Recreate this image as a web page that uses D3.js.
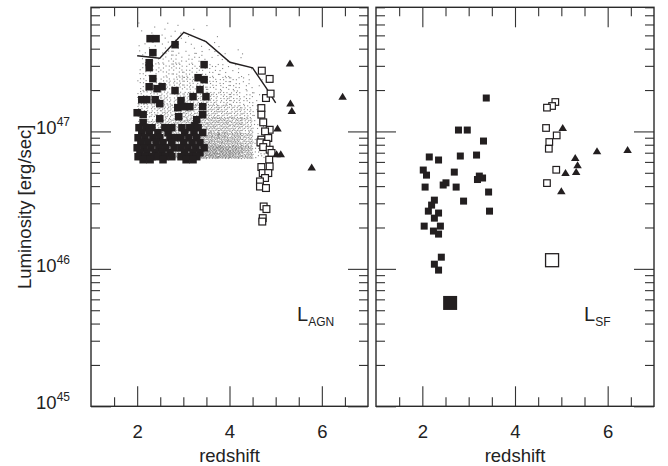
<!DOCTYPE html>
<html lang="en">
<head>
<meta charset="UTF-8">
<title>Luminosity vs redshift</title>
<style>
  body { margin: 0; background: #fff; }
  svg { display: block; font-family: 'Liberation Sans', Arial, sans-serif; }
</style>
</head>
<body>
<svg width="668" height="466"></svg>
<script src="https://d3js.org/d3.v7.min.js"></script>
<script>
// ---- tick values ----
const xMajorTicks = [2, 4, 6];
const xMinorTicks = [1.5, 2.5, 3, 3.5, 4.5, 5, 5.5, 6.5];
const yDecades = [45, 46, 47];
const yLabel = "Luminosity [erg/sec]";
const xLabel = "redshift";

// ---- left panel (L_AGN) ----
// filled squares: redshift, log10 L
const agnFilledZ = [
  2.28, 2.41, 2.82, 2.34, 2.26, 2.26, 3.45, 2.34, 3.32, 3.45, 2.26, 2.43, 2.54, 2.82, 3.36,
  2.10, 2.21, 2.39, 2.49, 2.95, 2.88, 3.03, 3.14, 3.42, 2.00, 2.13, 2.90, 3.42, 2.49, 2.13,
  3.29, 3.25, 3.49, 3.21,
  2.04, 2.19, 2.32, 2.60, 2.75, 2.97, 3.14, 3.32,
  2.10, 2.26, 2.45, 2.67, 3.03, 3.23, 3.42,
  2.02, 2.17, 2.34, 2.49, 2.71, 2.82, 2.95, 3.12, 3.29,
  2.08, 2.23, 2.41, 2.56, 2.75, 3.01, 3.19, 3.36,
  2.00, 2.15, 2.30, 2.47, 2.62, 2.80, 2.95, 3.10, 3.27, 3.45,
  2.06, 2.21, 2.39, 2.54, 2.71, 3.03, 3.21, 3.36,
  2.02, 2.17, 2.32, 2.45, 2.60, 2.75, 2.95, 3.12, 3.29,
  2.13, 2.28, 2.56, 3.06, 3.21
];
const agnFilledLogL = [
  47.675, 47.675, 47.631, 47.573, 47.500, 47.464, 47.486, 47.384, 47.391, 47.377, 47.325, 47.311, 47.325, 47.297, 47.304,
  47.231, 47.231, 47.231, 47.202, 47.224, 47.173, 47.180, 47.180, 47.180, 47.136, 47.122, 47.107, 47.122, 47.092, 47.063,
  47.085, 47.042, 47.253, 47.253,
  47.027, 47.027, 47.027, 47.027, 47.027, 47.027, 47.027, 47.027,
  46.991, 46.991, 46.991, 46.991, 46.991, 46.991, 46.991,
  46.954, 46.954, 46.954, 46.954, 46.954, 46.954, 46.954, 46.954, 46.954,
  46.918, 46.918, 46.918, 46.918, 46.918, 46.918, 46.918, 46.918,
  46.881, 46.881, 46.881, 46.881, 46.881, 46.881, 46.881, 46.881, 46.881, 46.881,
  46.845, 46.845, 46.845, 46.845, 46.845, 46.845, 46.845, 46.845,
  46.816, 46.816, 46.816, 46.816, 46.816, 46.816, 46.816, 46.816, 46.816,
  46.794, 46.794, 46.794, 46.794, 46.794
];
// open squares
const agnOpenZ = [4.70, 4.87, 4.79, 4.89, 4.69, 4.69, 4.73, 4.87, 4.77, 4.69, 4.84, 4.67, 4.80, 4.73, 4.87,
  4.91, 4.86, 4.87, 4.69, 4.72, 4.84, 4.77, 4.66, 4.66, 4.79, 4.74, 4.80, 4.72, 4.71];
const agnOpenLogL = [47.442, 47.382, 47.243, 47.275, 47.170, 47.122, 47.066, 47.012, 47.000, 46.940, 46.952, 46.920, 46.910, 46.886, 46.867,
  46.843, 46.794, 46.745, 46.741, 46.697, 46.697, 46.661, 46.636, 46.599, 46.588, 46.454, 46.435, 46.369, 46.344];
// triangles
const agnTriZ = [5.31, 5.32, 5.35, 5.04, 5.02, 5.11, 5.78, 6.45];
const agnTriLogL = [47.498, 47.207, 47.153, 47.025, 46.838, 46.838, 46.741, 47.255];
// envelope line
const lineZ = [2.00, 2.49, 3.01, 3.49, 4.01, 4.50, 4.82, 5.00];
const lineLogL = [47.551, 47.532, 47.721, 47.653, 47.503, 47.462, 47.304, 47.207];
// background population: dot counts per (log L row, redshift column) cell
const cloudZEdges = [2.0, 2.25, 2.5, 2.75, 3.0, 3.25, 3.5, 3.75, 4.0, 4.25, 4.5, 4.75];
const cloudLogLEdges = [46.806, 46.9, 47.0, 47.1, 47.2, 47.3, 47.4, 47.5, 47.6, 47.7, 47.8];
const cloudCounts = [
  [48, 56, 66, 78, 86, 92, 96, 92, 84, 62, 14],
  [38, 44, 52, 60, 66, 70, 72, 70, 64, 46, 11],
  [30, 34, 40, 46, 50, 52, 52, 50, 46, 34, 8],
  [22, 26, 30, 34, 36, 36, 35, 33, 30, 22, 5],
  [17, 20, 23, 26, 27, 27, 25, 23, 20, 13, 3],
  [13, 15, 18, 20, 20, 18, 16, 15, 12, 7, 2],
  [10, 12, 13, 15, 13, 11, 10, 8, 5, 2, 0],
  [7, 8, 10, 10, 8, 6, 4, 3, 2, 1, 0],
  [3, 4, 5, 5, 4, 3, 2, 1, 0, 0, 0],
  [2, 2, 3, 3, 2, 1, 0, 0, 0, 0, 0]
];

// ---- right panel (L_SF) ----
const sfFilledZ = [3.38, 2.78, 2.97, 3.32, 2.15, 2.35, 2.82, 3.17, 2.02, 2.09, 2.69, 3.23, 3.30, 3.19, 2.06, 2.45, 2.51,
  2.73, 3.43, 2.26, 2.20, 2.89, 2.13, 2.35, 3.45, 2.26, 2.04, 2.39, 2.24, 2.35, 2.41, 2.26, 2.35];
const sfFilledLogL = [47.243, 47.010, 47.010, 46.930, 46.814, 46.792, 46.821, 46.828, 46.719, 46.682, 46.704, 46.675, 46.661, 46.650, 46.595, 46.610, 46.626,
  46.595, 46.559, 46.500, 46.464, 46.493, 46.420, 46.406, 46.420, 46.369, 46.311, 46.311, 46.275, 46.253, 46.085, 46.034, 45.991];
const sfOpenZ = [4.87, 4.80, 4.69, 4.67, 4.90, 4.74, 4.73, 4.89, 4.69];
const sfOpenLogL = [47.214, 47.185, 47.173, 47.025, 46.971, 46.923, 46.874, 46.721, 46.624];
const sfTriZ = [5.03, 5.77, 6.43, 5.30, 5.35, 5.09, 5.32, 5.00];
const sfTriLogL = [47.029, 46.859, 46.869, 46.811, 46.757, 46.701, 46.709, 46.568];
// the two large (mean) symbols
const sfMeanFilled = [2.60, 45.752];
const sfMeanOpen = [4.80, 46.063];

// ---- layout ----
const svg = d3.select("svg");
const ink = "#231f20";
const fs = 18.5;
const plotTop = 7.3, plotBottom = 406.3;
const y = d3.scaleLog().domain([1e45, 8e47]).range([plotBottom, plotTop]);

const yMajor = yDecades.map(d => Math.pow(10, d));
const yMinor = [];
yDecades.forEach(d => {
  for (let k = 2; k <= 9; k++) {
    const v = k * Math.pow(10, d);
    if (v <= 8e47) yMinor.push(v);
  }
});

const panels = [
  { x0: 91, x1: 368, label: "AGN", lx: 297 },
  { x0: 376, x1: 654, label: "SF", lx: 584 }
];

const zip = (a, b) => a.map((v, i) => [v, b[i]]);
const tri = (w, h) => `M0,${-h / 2}L${w / 2},${h / 2}L${-w / 2},${h / 2}Z`;

panels.forEach((p, pi) => {
  const x = d3.scaleLinear().domain([1, 7]).range([p.x0, p.x1]);
  const g = svg.append("g");

  const axisDefs = [
    [d3.axisBottom(x), `translate(0,${plotBottom})`, xMajorTicks, xMinorTicks],
    [d3.axisTop(x), `translate(0,${plotTop})`, xMajorTicks, xMinorTicks],
    [d3.axisLeft(y), `translate(${p.x0},0)`, yMajor, yMinor],
    [d3.axisRight(y), `translate(${p.x1},0)`, yMajor, yMinor]
  ];
  axisDefs.forEach(([ax, tr, major, minor], ai) => {
    const gMaj = g.append("g").attr("transform", tr)
      .call(ax.tickValues(major).tickSize(-20).tickPadding(19)
        .tickFormat(ai === 0 ? d3.format("d") : () => ""));
    gMaj.select(".domain").remove();
    gMaj.selectAll("line").attr("stroke", "#333").attr("stroke-width", 1.1);
    gMaj.selectAll("text").attr("font-size", fs).attr("fill", "#222")
      .attr("font-family", "'Liberation Sans', Arial, sans-serif");
    const gMin = g.append("g").attr("transform", tr)
      .call(ax.tickValues(minor).tickSize(-9).tickFormat(() => ""));
    gMin.select(".domain").remove();
    gMin.selectAll("line").attr("stroke", "#333").attr("stroke-width", 1.1);
  });

  // y labels with superscript, left panel only
  if (pi === 0) {
    yDecades.forEach(d => {
      const t = g.append("text")
        .attr("x", 70).attr("y", y(Math.pow(10, d)) + 3)
        .attr("text-anchor", "end").attr("font-size", fs).attr("fill", "#222");
      t.append("tspan").text("10");
      t.append("tspan").attr("font-size", 12).attr("dy", -8).text(String(d));
    });
  }

  // x label
  g.append("text")
    .attr("x", (p.x0 + p.x1) / 2).attr("y", 462)
    .attr("text-anchor", "middle").attr("font-size", fs).attr("fill", "#222")
    .text(xLabel);

  // frame
  g.append("rect")
    .attr("x", p.x0).attr("y", plotTop)
    .attr("width", p.x1 - p.x0).attr("height", plotBottom - plotTop)
    .attr("fill", "none").attr("stroke", "#2a2a2a").attr("stroke-width", 1.4);

  // panel label
  const lt = g.append("text")
    .attr("x", p.lx).attr("y", 321).attr("font-size", 20).attr("fill", "#222");
  lt.append("tspan").text("L");
  lt.append("tspan").attr("font-size", 12).attr("dy", 5).text(p.label);

  const marks = g.append("g");
  const sq = (data, size, filled, sw) => marks.append("g").selectAll("rect")
    .data(data).join("rect")
    .attr("x", d => x(d[0]) - size / 2)
    .attr("y", d => y(Math.pow(10, d[1])) - size / 2)
    .attr("width", size).attr("height", size)
    .attr("fill", filled ? ink : "#fff")
    .attr("stroke", ink).attr("stroke-width", filled ? 0 : sw);
  const tris = data => marks.append("g").selectAll("path")
    .data(data).join("path")
    .attr("d", tri(8.5, 7))
    .attr("transform", d => `translate(${x(d[0])},${y(Math.pow(10, d[1]))})`)
    .attr("fill", ink);

  if (pi === 0) {
    // dot cloud
    const dots = [];
    cloudCounts.forEach((row, r) => {
      row.forEach((n, c) => {
        const z0 = cloudZEdges[c], z1 = cloudZEdges[c + 1];
        const l0 = cloudLogLEdges[r], l1 = cloudLogLEdges[r + 1];
        for (let k = 0; k < n; k++) {
          const u = (0.37 + k * 0.7548776662 + c * 0.131 + r * 0.219) % 1;
          const v = (0.61 + k * 0.5698402910 + c * 0.277 + r * 0.083) % 1;
          dots.push([z0 + u * (z1 - z0), l0 + v * (l1 - l0)]);
        }
      });
    });
    marks.append("g").selectAll("rect").data(dots).join("rect")
      .attr("x", d => x(d[0])).attr("y", d => y(Math.pow(10, d[1])))
      .attr("width", 1.1).attr("height", 1.1).attr("fill", "#555").attr("opacity", 0.7);

    marks.append("path")
      .datum(zip(lineZ, lineLogL))
      .attr("d", d3.line().x(d => x(d[0])).y(d => y(Math.pow(10, d[1]))))
      .attr("fill", "none").attr("stroke", ink).attr("stroke-width", 1.4);

    sq(zip(agnFilledZ, agnFilledLogL), 7.5, true);
    sq(zip(agnOpenZ, agnOpenLogL), 6.8, false, 1.2);
    tris(zip(agnTriZ, agnTriLogL));
  } else {
    sq(zip(sfFilledZ, sfFilledLogL), 7, true);
    sq(zip(sfOpenZ, sfOpenLogL), 6.6, false, 1.2);
    tris(zip(sfTriZ, sfTriLogL));
    sq([sfMeanFilled], 14, true);
    sq([sfMeanOpen], 13, false, 1.3);
  }
});

// y axis title
svg.append("text")
  .attr("transform", `translate(31,${(plotTop + plotBottom) / 2}) rotate(-90)`)
  .attr("text-anchor", "middle").attr("font-size", fs).attr("fill", "#222")
  .text(yLabel);
</script>
</body>
</html>
